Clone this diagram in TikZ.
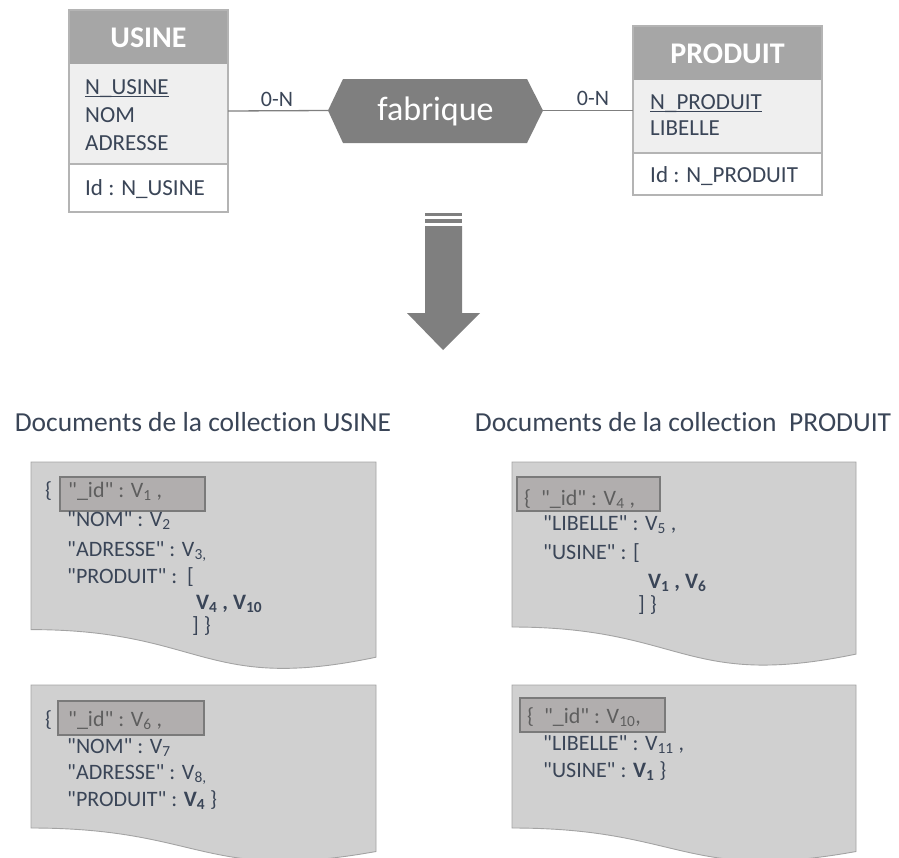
\documentclass[tikz,border=0pt]{standalone}
\usepackage{fontspec}
\setmainfont{Carlito}[Ligatures={TeXOff,NoCommon}]
\definecolor{txt}{HTML}{3A4557}
\definecolor{hitxt}{HTML}{5E5E5E}
\definecolor{hdrbg}{HTML}{A6A6A6}
\definecolor{attrbg}{HTML}{EFEFEF}
\definecolor{boxline}{HTML}{B4B4B4}
\definecolor{conn}{HTML}{7F7F7F}
\definecolor{docbg}{HTML}{D0D0D0}
\definecolor{docline}{HTML}{A3A3A3}
\definecolor{hibg}{HTML}{B1AEAE}
\definecolor{hiline}{HTML}{7A7A7A}
\newcommand\myul[1]{\setbox0\hbox{#1}\rlap{\rule[-2.6pt]{\wd0}{1.1pt}}\box0}
\begin{document}
\begin{tikzpicture}[x=1pt,y=-1pt,
  enttitle/.style={font=\fontsize{30}{34}\selectfont\bfseries, text=white, inner sep=0pt},
  attr/.style={font=\fontsize{23}{27}\selectfont, text=txt, anchor=base west, inner sep=0pt},
  card/.style={font=\fontsize{22}{26}\selectfont, text=txt, inner sep=0pt},
  heading/.style={font=\fontsize{27.5}{32}\selectfont, text=txt, inner sep=0pt},
  doctxt/.style={font=\fontsize{22}{26}\selectfont, text=txt, anchor=base west, inner sep=0pt},
  hitxtst/.style={doctxt, text=hitxt},
  connector/.style={draw=conn, line width=1.3pt},
  docshape/.style={fill=docbg, draw=docline, line width=0.9pt},
  hibox/.style={fill=hibg, draw=hiline, line width=1.5pt},
  boxsec/.style={draw=boxline, line width=1.2pt}
]
\useasboundingbox (0,0) rectangle (899,857);

% ---------- USINE entity ----------
\fill[hdrbg] (69,10) rectangle (228,64);
\fill[attrbg] (69,64) rectangle (228,164);
\fill[white] (69,164) rectangle (228,212);
\draw[boxsec] (69,10) rectangle (228,212);
\draw[boxsec] (69,164) -- (228,164);
\coordinate (usineE) at (228,111);
\node[enttitle] (usineT) at (148.5,38) {USINE};
\node[attr] (usineA1) at (85,94.5) {\myul{N\_USINE}};
\node[attr] (usineA2) at (85,122.5) {NOM};
\node[attr] (usineA3) at (85,150.5) {ADRESSE};
\node[attr] (usineId) at (85,195.5) {Id : N\_USINE};

% ---------- PRODUIT entity ----------
\fill[hdrbg] (633,26) rectangle (822,80);
\fill[attrbg] (633,80) rectangle (822,153);
\fill[white] (633,153) rectangle (822,195);
\draw[boxsec] (633,26) rectangle (822,195);
\draw[boxsec] (633,153) -- (822,153);
\coordinate (produitW) at (633,110.5);
\node[enttitle] (produitT) at (727.5,54) {PRODUIT};
\node[attr] (produitA1) at (650,109.5) {\myul{N\_PRODUIT}};
\node[attr] (produitA2) at (650,135.5) {LIBELLE};
\node[attr] (produitId) at (650,182.5) {Id : N\_PRODUIT};

% ---------- association ----------
\coordinate (hexL) at (328,110.5);
\coordinate (hexR) at (543,110.5);
\fill[conn] (hexL) -- (343,79) -- (527,79) -- (hexR) -- (527,143) -- (343,143) -- cycle;
\node[font=\fontsize{34}{38}\selectfont, text=white, inner sep=0pt] (hex) at (435.5,111) {fabrique};
\draw[connector] (usineE) -- (hexL);
\draw[connector] (hexR) -- (produitW);
\node[card] (cardL) at (277,99) {0-N};
\node[card] (cardR) at (593,98) {0-N};

% ---------- big arrow ----------
\fill[conn] (425,213) rectangle (462,216);
\fill[conn] (425,218.5) rectangle (462,223);
\fill[conn] (425,226) -- (462,226) -- (462,313) -- (480,313) -- (443,350) -- (407,313) -- (425,313) -- cycle;

% ---------- headings ----------
\node[heading] (headL) at (203,422) {Documents de la collection USINE};
\node[heading] (headR) at (683,422) {Documents de la collection\ \ PRODUIT};

% ---------- documents ----------
\path[docshape] (31,462) -- (376,462) -- (376,657.2) .. controls (203.5,693.5) and (203.5,629.6) .. (31,629.6) -- cycle;
\path[docshape] (31,685) -- (376,685) -- (376,851.5) .. controls (203.5,882.5) and (203.5,828) .. (31,828) -- cycle;
\path[docshape] (512,462) -- (856,462) -- (856,654.1) .. controls (684,689.8) and (684,627) .. (512,627) -- cycle;
\path[docshape] (512,685) -- (856,685) -- (856,851.5) .. controls (684,882.5) and (684,828) .. (512,828) -- cycle;

\path[hibox] (60,477) rectangle (205,511);
\path[hibox] (58,701) rectangle (204,735);
\path[hibox] (517,477) rectangle (660,511);
\path[hibox] (520,698) rectangle (665,732);

% USINE doc 1
\node[doctxt] (u1b) at (45,497) {\{};
\node[hitxtst] (u1id) at (68,497) {"\_id" : V\textsubscript{1} ,};
\node[doctxt] (u1n) at (67,526) {"NOM" : V\textsubscript{2}};
\node[doctxt] (u1a) at (67,556) {"ADRESSE" : V\textsubscript{3,}};
\node[doctxt] (u1p) at (67,583) {"PRODUIT" :\ \ [};
\node[doctxt] (u1v) at (196,609) {\textbf{V\textsubscript{4} , V\textsubscript{10}}};
\node[doctxt] (u1e) at (192,632) {] \}};

% USINE doc 2
\node[doctxt] (u2b) at (45,726) {\{};
\node[hitxtst] (u2id) at (68,726) {"\_id" : V\textsubscript{6} ,};
\node[doctxt] (u2n) at (67,753) {"NOM" : V\textsubscript{7}};
\node[doctxt] (u2a) at (67,779) {"ADRESSE" : V\textsubscript{8,}};
\node[doctxt] (u2p) at (67,806) {"PRODUIT" : \textbf{V\textsubscript{4}} \}};

% PRODUIT doc 1
\node[hitxtst] (p1id) at (524,505) {\{\ \ "\_id" : V\textsubscript{4} ,};
\node[doctxt] (p1l) at (543,530) {"LIBELLE" : V\textsubscript{5} ,};
\node[doctxt] (p1u) at (543,559) {"USINE" : [};
\node[doctxt] (p1v) at (648,588) {\textbf{V\textsubscript{1} , V\textsubscript{6}}};
\node[doctxt] (p1e) at (638,611) {] \}};

% PRODUIT doc 2
\node[hitxtst] (p2id) at (527,723) {\{\ \ "\_id" : V\textsubscript{10},};
\node[doctxt] (p2l) at (543,750) {"LIBELLE" : V\textsubscript{11} ,};
\node[doctxt] (p2u) at (543,777) {"USINE" : \textbf{V\textsubscript{1}} \}};
\end{tikzpicture}
\end{document}
